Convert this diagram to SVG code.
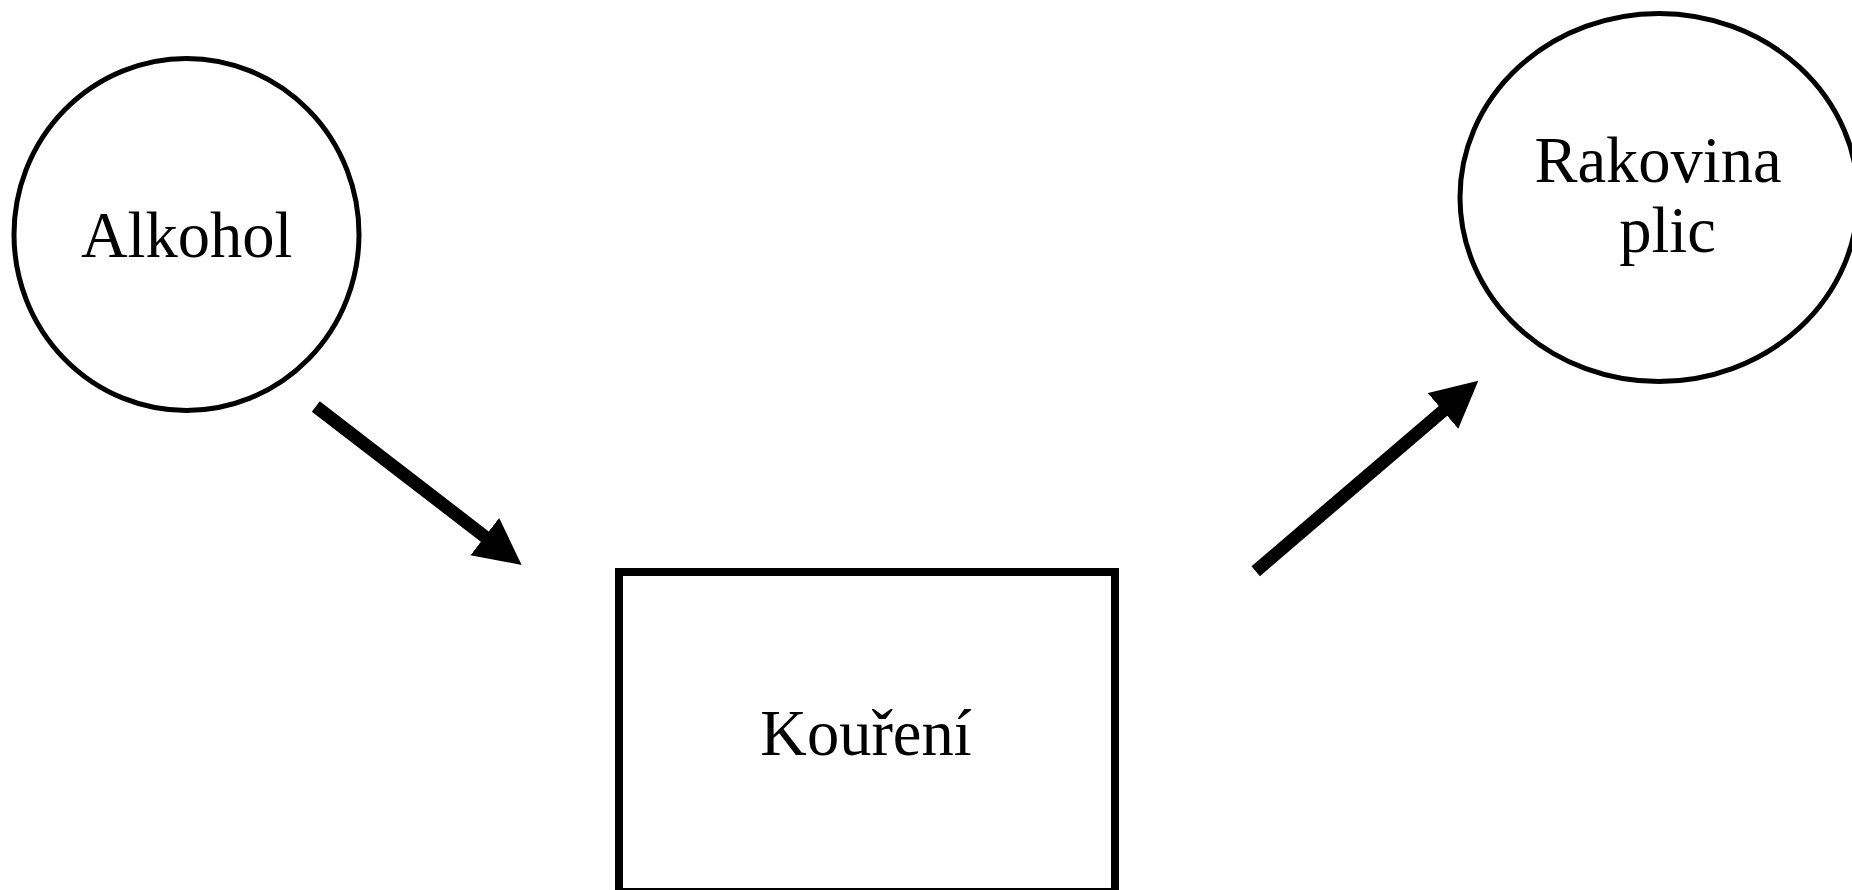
<svg xmlns="http://www.w3.org/2000/svg" width="1852" height="890" viewBox="0 0 1852 890">
<style>
.node{fill:#fff;stroke:#000}
.lbl{font-family:"Liberation Serif","Times New Roman",serif;font-size:64.5px;fill:#000;text-anchor:middle}
.edge{stroke:#000;stroke-width:13;fill:none;stroke-linecap:butt}
</style>
<defs>
<marker id="ah" viewBox="0 -24 47 48" markerWidth="47" markerHeight="48" refX="2" refY="0" orient="auto" markerUnits="userSpaceOnUse">
<path d="M0,-23.5 L46.5,0 L0,23.5 Z" fill="#000"/>
</marker>
</defs>
<rect width="1852" height="890" fill="#fff"/>
<g id="alkohol">
<ellipse class="node" cx="186.5" cy="234.5" rx="172.5" ry="176" stroke-width="5"/>
<text class="lbl" x="186.7" y="257">Alkohol</text>
</g>
<g id="rakovina">
<ellipse class="node" cx="1659" cy="197.5" rx="199" ry="184" stroke-width="5"/>
<text class="lbl" x="1658" y="182">Rakovina</text>
<text class="lbl" x="1667.5" y="252">plic</text>
</g>
<g id="koureni">
<rect class="node" x="619" y="572" width="496" height="320" stroke-width="8"/>
<text class="lbl" x="866" y="755">Kouření</text>
</g>
<g id="connectors">
<line class="edge" x1="315.8" y1="406.5" x2="486.4" y2="537.8" marker-end="url(#ah)"/>
<line class="edge" x1="1255.7" y1="571.2" x2="1444.5" y2="409.6" marker-end="url(#ah)"/>
</g>
</svg>
